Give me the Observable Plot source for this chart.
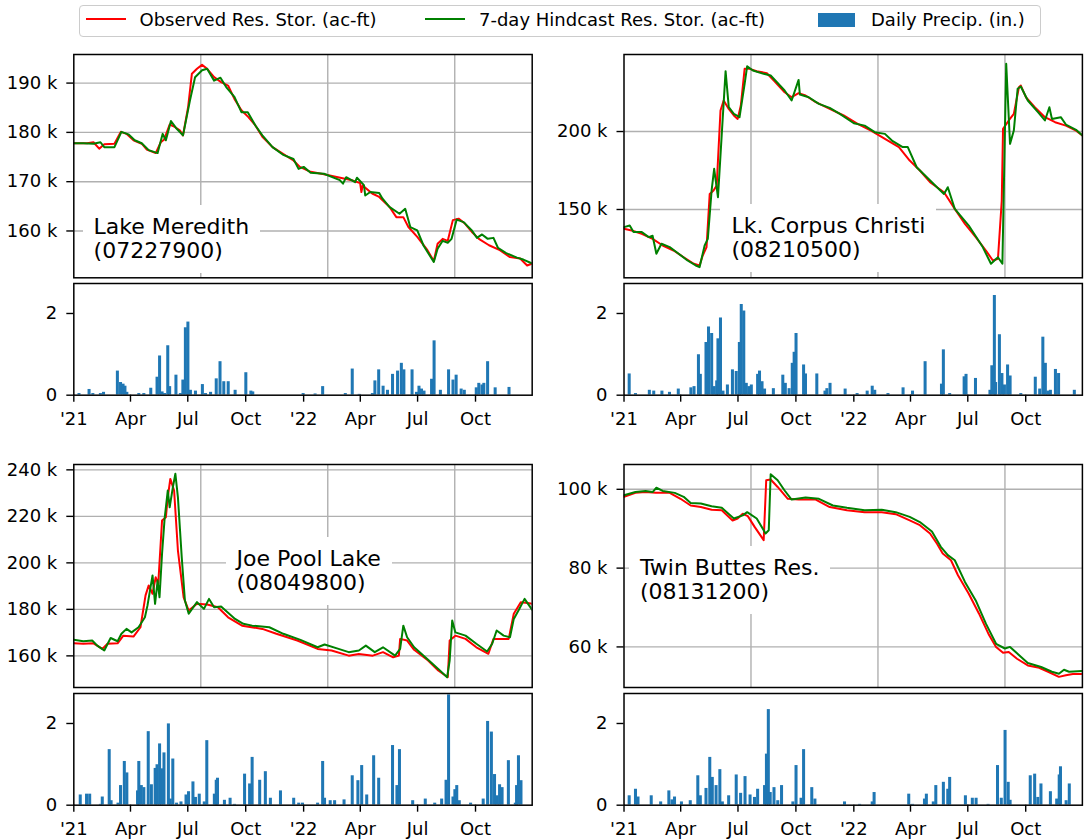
<!DOCTYPE html>
<html><head><meta charset="utf-8">
<script src="https://cdn.jsdelivr.net/npm/d3@7"></script>
<script src="https://cdn.jsdelivr.net/npm/@observablehq/plot@0.6"></script>
<style>
body{margin:0;background:#fff;font-family:"DejaVu Sans",sans-serif;}
#wrap{position:relative;width:1084px;height:839px;overflow:hidden;background:#fff;}
#wrap svg{position:absolute;}
.lbl{position:absolute;background:#fff;padding:10px 11px;font-size:22px;line-height:24px;white-space:pre;color:#000;}
.ltxt{position:absolute;font-size:18px;line-height:20px;white-space:pre;color:#000;top:10px;}
</style></head><body><div id="wrap"></div>
<script>
// ---------- storage series: [day index, thousand ac-ft] ----------
const meredithObs = [[0,177.8],[21,177.8],[31,178.0],[40,176.7],[48,177.6],[64,177.7],[74,180.1],[83,179.7],[94,178.4],[107,177.7],[115,176.5],[129,175.8],[137,178.0],[142,178.5],[151,181.6],[159,181.1],[167,180.4],[172,179.4],[180,185.1],[186,191.9],[194,192.9],[202,193.7],[210,192.9],[221,191.2],[232,190.2],[243,189.5],[253,186.8],[264,184.5],[275,183.1],[286,181.4],[297,179.1],[313,177.0],[329,175.7],[346,174.3],[356,173.0],[373,172.0],[394,171.5],[416,170.9],[438,170.3],[451,169.7],[453,167.9],[455,169.2],[470,167.6],[481,166.9],[497,164.9],[508,162.8],[519,162.8],[527,160.8],[541,158.8],[557,156.1],[567,153.9],[573,157.4],[581,158.4],[589,158.0],[597,162.2],[606,162.5],[616,161.5],[627,159.8],[638,158.4],[654,157.1],[671,156.1],[687,154.7],[703,154.4],[714,153.0],[722,153.4]];
const meredithHind = [[0,177.8],[15,177.8],[31,177.7],[42,178.0],[48,177.0],[64,177.0],[75,180.1],[86,179.6],[96,178.4],[107,177.8],[118,176.4],[132,175.8],[140,179.7],[145,178.4],[153,182.3],[161,180.9],[172,179.4],[183,186.5],[191,191.2],[202,192.6],[210,192.9],[221,190.5],[231,191.1],[240,189.2],[253,187.2],[264,184.1],[274,184.1],[286,181.4],[297,179.4],[313,177.0],[329,175.5],[346,174.6],[354,172.6],[362,173.0],[373,171.8],[394,171.6],[419,170.3],[424,169.6],[429,170.9],[443,169.9],[446,170.8],[457,169.3],[459,167.2],[467,167.9],[481,167.7],[486,166.6],[497,164.9],[513,163.5],[522,164.5],[530,160.8],[541,160.1],[551,157.0],[567,153.7],[573,156.4],[581,158.0],[589,157.6],[595,158.4],[603,162.3],[614,161.8],[627,160.1],[635,158.6],[643,159.3],[652,158.4],[661,158.6],[668,156.6],[681,155.5],[698,154.6],[708,154.2],[722,153.4]];

const corpusObs = [[0,137.6],[12,136.5],[28,134.4],[45,131.2],[61,126.9],[78,123.7],[94,119.4],[110,115.2],[119,114.1],[124,120.5],[130,125.9],[135,160.0],[141,162.2],[146,165.4],[152,213.5],[157,219.9],[165,214.5],[173,210.3],[179,208.1],[184,216.7],[190,240.2],[198,240.2],[209,238.7],[225,237.4],[236,232.7],[253,225.2],[264,222.0],[275,224.6],[286,223.1],[302,218.8],[324,214.5],[346,210.3],[368,204.9],[389,200.6],[411,195.3],[433,190.0],[450,181.4],[466,175.0],[482,167.5],[504,161.1],[521,150.4],[537,140.8],[554,132.3],[570,123.7],[581,117.3],[589,118.4],[595,155.8],[597,201.7],[606,207.1],[614,211.3],[622,228.4],[625,229.5],[633,222.0],[647,215.6],[663,209.2],[679,206.0],[696,203.8],[712,200.6],[722,197.4]];
const corpusHind = [[0,138.7],[9,139.7],[15,135.5],[28,135.5],[39,132.3],[45,133.2],[51,121.6],[59,128.0],[72,125.9],[83,122.6],[100,117.3],[113,114.1],[119,113.0],[127,126.9],[132,131.2],[138,162.2],[142,176.1],[148,157.9],[154,198.5],[160,238.7],[165,215.6],[173,211.3],[182,209.2],[190,230.6],[194,241.9],[203,239.1],[220,237.0],[231,235.9],[253,226.3],[264,219.9],[275,233.1],[277,223.7],[291,222.0],[307,217.7],[324,215.2],[340,211.3],[362,205.3],[379,203.8],[395,199.6],[411,198.5],[422,194.2],[439,190.0],[447,190.0],[461,177.1],[477,170.7],[493,164.3],[504,160.0],[510,164.3],[521,150.4],[543,139.7],[565,125.9],[578,115.2],[589,119.4],[596,115.2],[602,243.4],[606,209.2],[608,192.1],[614,200.6],[620,227.4],[625,228.9],[636,219.9],[652,212.4],[663,207.1],[670,215.6],[674,208.1],[688,209.2],[696,204.5],[712,201.1],[722,197.4]];

const joeObs = [[0,165.4],[15,165.2],[31,165.4],[45,163.0],[53,165.2],[69,165.4],[78,168.7],[94,168.3],[105,172.3],[113,186.0],[118,190.3],[124,186.7],[129,193.8],[133,191.0],[139,218.2],[145,219.6],[148,228.2],[152,236.1],[158,231.1],[164,205.3],[173,185.2],[181,179.5],[194,182.4],[210,182.1],[227,180.9],[243,176.6],[265,173.0],[297,171.6],[319,169.5],[352,166.6],[384,163.0],[406,162.3],[433,160.1],[449,160.8],[471,160.1],[487,161.6],[503,159.4],[512,160.1],[514,167.3],[525,166.6],[536,162.6],[558,158.0],[574,153.7],[589,150.8],[592,166.6],[601,168.7],[617,167.3],[634,163.7],[653,160.9],[661,167.3],[672,167.3],[685,167.3],[693,178.1],[704,183.1],[715,182.7],[722,182.4]];
const joeHind = [[0,166.9],[15,166.3],[29,166.6],[37,164.4],[48,162.3],[58,167.7],[69,166.3],[75,169.5],[83,171.6],[91,170.1],[102,172.3],[112,176.6],[116,181.6],[124,194.6],[128,182.4],[132,192.4],[135,185.2],[139,203.9],[143,218.9],[148,231.1],[151,223.9],[156,232.5],[160,238.3],[164,228.2],[170,202.4],[175,183.8],[181,178.1],[194,183.1],[205,180.2],[213,184.5],[221,180.9],[232,181.2],[254,175.9],[267,173.8],[281,173.0],[308,172.3],[330,169.5],[357,166.9],[384,163.7],[395,164.9],[417,163.0],[433,161.6],[449,162.3],[460,164.4],[474,161.6],[487,163.7],[506,160.1],[514,163.0],[519,173.0],[525,168.0],[536,163.7],[558,158.3],[574,154.4],[588,150.8],[592,158.0],[596,175.2],[601,170.1],[617,168.7],[634,165.2],[651,161.9],[659,165.2],[666,170.9],[677,168.7],[687,168.0],[693,175.9],[701,179.8],[710,184.5],[722,179.8]];

const twinObs = [[0,98.1],[18,99.1],[34,99.3],[50,99.1],[72,99.1],[89,97.6],[105,95.9],[121,95.5],[138,94.8],[154,94.7],[171,92.1],[179,92.6],[187,93.8],[195,93.2],[206,90.4],[220,87.1],[224,102.3],[231,102.5],[242,100.6],[258,97.6],[275,97.4],[302,97.4],[324,95.5],[351,94.7],[379,94.2],[406,94.2],[428,93.7],[450,92.1],[466,90.9],[482,88.8],[493,86.2],[502,83.7],[515,82.0],[526,78.2],[543,73.5],[559,68.5],[575,63.0],[586,60.0],[597,58.5],[606,58.7],[619,57.0],[636,55.3],[652,54.8],[668,53.7],[685,52.4],[696,52.8],[707,53.1],[722,53.1]];
const twinHind = [[0,98.5],[18,99.3],[34,99.6],[45,99.3],[51,100.4],[61,99.6],[80,99.1],[94,98.1],[105,96.5],[121,96.4],[138,95.7],[154,95.3],[173,92.6],[187,93.4],[194,94.2],[209,92.6],[223,88.8],[228,89.6],[231,103.8],[242,102.3],[253,99.7],[264,97.4],[286,97.9],[307,97.6],[329,95.9],[351,95.3],[379,94.7],[406,94.8],[428,94.2],[450,93.0],[466,91.7],[485,89.3],[499,85.4],[510,83.3],[521,82.0],[537,76.5],[554,71.8],[570,65.9],[586,60.8],[600,59.6],[608,60.0],[625,57.5],[636,55.9],[657,54.9],[674,53.7],[685,53.2],[693,54.2],[701,53.7],[722,53.9]];

// ---------- daily precipitation: [days since 2021-01-01, inches] ----------
const meredithPrecip = [[9,0.04],[25,0.14],[31,0.04],[43,0.04],[48,0.07],[70,0.59],[75,0.31],[79,0.27],[82,0.22],[85,0.07],[104,0.04],[112,0.04],[123,0.17],[133,0.44],[137,0.96],[141,0.08],[145,0.04],[150,1.21],[153,0.21],[163,0.49],[170,0.04],[174,0.37],[178,1.65],[182,1.79],[186,0.12],[194,0.10],[205,0.26],[210,0.04],[218,0.07],[227,0.40],[233,0.82],[239,0.33],[246,0.33],[257,0.12],[274,0.55],[282,0.10],[285,0.08],[365,0.04],[384,0.03],[396,0.21],[432,0.04],[443,0.64],[454,0.02],[475,0.04],[479,0.35],[485,0.62],[492,0.22],[499,0.12],[507,0.51],[515,0.59],[521,0.78],[525,0.62],[538,0.62],[545,0.07],[549,0.22],[553,0.15],[557,0.10],[569,0.39],[573,1.33],[583,0.12],[596,0.62],[603,0.37],[608,0.49],[616,0.15],[621,0.12],[640,0.18],[644,0.29],[649,0.25],[652,0.29],[658,0.82],[670,0.18],[692,0.19]];
const corpusPrecip = [[9,0.52],[19,0.04],[41,0.12],[48,0.10],[61,0.10],[73,0.07],[87,0.15],[107,0.18],[112,0.21],[119,0.99],[122,0.51],[131,1.29],[135,1.67],[140,1.51],[144,0.21],[148,0.35],[150,1.38],[154,1.89],[158,0.10],[165,0.25],[173,0.62],[179,0.58],[184,1.29],[187,2.22],[191,2.06],[195,0.29],[199,0.21],[203,0.25],[213,0.51],[216,0.59],[220,0.33],[224,0.15],[238,0.16],[253,0.49],[257,0.29],[263,0.16],[268,0.78],[271,1.05],[274,1.51],[286,0.74],[289,0.52],[307,0.52],[320,0.10],[323,0.16],[328,0.29],[352,0.15],[371,0.04],[387,0.10],[395,0.22],[399,0.12],[420,0.04],[444,0.18],[459,0.10],[479,0.82],[505,0.27],[508,1.11],[518,0.04],[541,0.45],[544,0.51],[559,0.41],[582,0.12],[585,0.72],[589,2.44],[591,0.31],[597,1.48],[601,0.53],[605,0.25],[610,0.74],[614,0.47],[631,0.04],[654,0.44],[661,0.15],[666,1.42],[670,0.78],[674,0.10],[678,0.12],[686,0.63],[691,0.53],[716,0.12]];
const joePrecip = [[11,0.25],[21,0.27],[26,0.27],[43,0.02],[46,0.20],[57,1.36],[60,0.11],[71,0.05],[75,0.48],[81,1.07],[85,0.79],[102,0.35],[104,1.07],[108,0.48],[112,0.43],[119,1.80],[124,0.50],[130,0.90],[133,0.99],[137,1.50],[140,0.89],[144,1.28],[151,1.99],[154,0.15],[158,1.13],[164,0.05],[171,0.08],[179,0.25],[183,0.33],[190,0.57],[194,0.19],[200,0.27],[208,0.08],[212,1.58],[224,0.27],[227,0.61],[229,0.66],[240,0.12],[249,0.17],[256,0.02],[272,0.76],[280,0.52],[284,1.17],[296,0.61],[305,0.82],[313,0.17],[329,0.35],[350,0.17],[358,0.05],[364,0.05],[388,0.05],[396,1.07],[399,0.17],[408,0.11],[415,0.11],[430,0.13],[443,0.72],[452,0.60],[458,0.97],[466,0.25],[477,1.21],[485,0.66],[507,1.46],[514,0.48],[518,1.36],[539,0.11],[559,0.15],[574,0.05],[585,0.15],[592,0.61],[596,2.70],[603,0.20],[606,0.38],[609,0.48],[613,0.11],[631,0.05],[651,0.15],[658,2.05],[664,1.79],[669,0.75],[673,0.23],[677,0.50],[681,0.43],[691,1.09],[702,0.05],[704,0.48],[707,1.21],[711,0.60]];
const twinPrecip = [[9,0.23],[19,0.39],[23,0.20],[44,0.23],[59,0.08],[72,0.35],[77,0.13],[81,0.20],[92,0.08],[106,0.11],[118,0.72],[122,0.23],[131,0.41],[137,1.17],[141,0.68],[147,0.48],[153,0.87],[157,0.08],[167,0.23],[179,0.74],[186,0.29],[193,0.70],[201,0.25],[208,0.19],[213,0.39],[224,0.48],[227,1.25],[230,2.34],[233,0.31],[239,0.43],[245,0.11],[251,0.48],[269,0.08],[274,0.97],[282,0.17],[286,1.36],[299,0.43],[304,0.15],[351,0.08],[375,0.02],[395,0.08],[398,0.31],[453,0.27],[459,0.02],[478,0.15],[481,0.27],[492,0.08],[496,0.48],[508,0.56],[515,0.39],[518,0.68],[543,0.23],[554,0.17],[560,0.17],[579,0.02],[594,0.97],[600,0.17],[606,1.83],[611,0.56],[614,0.12],[646,0.72],[653,0.76],[658,0.19],[663,0.52],[678,0.33],[688,0.15],[692,0.74],[694,0.94],[703,0.11],[708,0.52]];

// ---------- ticks and labels ----------
const lakeNames = ["Lake Meredith\n(07227900)", "Lk. Corpus Christi\n(08210500)", "Joe Pool Lake\n(08049800)", "Twin Buttes Res.\n(08131200)"];
const storageTicks = [[160000,170000,180000,190000],[150000,200000],[160000,180000,200000,220000,240000],[60000,80000,100000]];
const storageDomains = [[150500,195800],[106200,249400],[146400,242300],[49700,106300]];
const storageGridDays = [200,400,600];
const storageLastIndex = 722;
const precipTickDates = ["2021-01-01","2021-04-01","2021-07-01","2021-10-01","2022-01-01","2022-04-01","2022-07-01","2022-10-01"];
const precipTickLabels = ["'21","Apr","Jul","Oct","'22","Apr","Jul","Oct"];
const precipTicks = [0, 2];
const precipMax = 2.734;
const precipDays = 728;
const legendLabels = ["Observed Res. Stor. (ac-ft)", "7-day Hindcast Res. Stor. (ac-ft)", "Daily Precip. (in.)"];
const colors = {obs: "#ff0000", hind: "#008000", precip: "#1f77b4", grid: "#b0b0b0"};

const day0 = Date.UTC(2021,0,1);
const dayDate = d => new Date(day0 + d*864e5);
const tickDates = precipTickDates.map(s => new Date(s + "T00:00:00Z"));
const tickLabelMap = new Map(tickDates.map((t,i) => [+t, precipTickLabels[i]]));

const wrap = document.getElementById("wrap");
const svgStyle = {background: "transparent", overflow: "visible", fontFamily: "DejaVu Sans, sans-serif", fontSize: "18px", color: "black"};

const cols = [
  {left: 0, width: 540, mL: 73.3, mR: 8.3},
  {left: 540, width: 544, mL: 83.5, mR: 2.1}
];
const rows = [
  {sTop: 54, sH: 223.3, pTop: 283.3, pH: 111.7},
  {sTop: 464.3, sH: 223, pTop: 693.3, pH: 111.7}
];
const panels = [
  {obs: meredithObs, hind: meredithHind, precip: meredithPrecip, r: 0, c: 0, lbl: [82.6, 205]},
  {obs: corpusObs, hind: corpusHind, precip: corpusPrecip, r: 0, c: 1, lbl: [720.4, 203.5]},
  {obs: joeObs, hind: joeHind, precip: joePrecip, r: 1, c: 0, lbl: [225.5, 537]},
  {obs: twinObs, hind: twinHind, precip: twinPrecip, r: 1, c: 1, lbl: [629, 546]}
];

function place(svg, left, top) {
  svg.style.left = left + "px";
  svg.style.top = top + "px";
  wrap.appendChild(svg);
}

panels.forEach((p, i) => {
  const col = cols[p.c], row = rows[p.r];
  const toRows = arr => arr.map(d => ({day: d[0], stor: d[1]*1000}));
  const s = Plot.plot({
    width: col.width, height: row.sH + 20,
    marginLeft: col.mL, marginRight: col.mR, marginTop: 10, marginBottom: 10,
    style: svgStyle,
    x: {type: "linear", domain: [0, storageLastIndex], axis: null},
    y: {domain: storageDomains[i]},
    marks: [
      Plot.gridX({ticks: storageGridDays, stroke: colors.grid, strokeOpacity: 1, strokeWidth: 1.4}),
      Plot.gridY({ticks: storageTicks[i], stroke: colors.grid, strokeOpacity: 1, strokeWidth: 1.4}),
      Plot.line(toRows(p.obs), {x: "day", y: "stor", stroke: colors.obs, strokeWidth: 2, clip: true}),
      Plot.line(toRows(p.hind), {x: "day", y: "stor", stroke: colors.hind, strokeWidth: 2, clip: true}),
      Plot.axisY({ticks: storageTicks[i], tickFormat: v => `${v/1000} k`, tickSize: 7, tickPadding: 9.5, strokeWidth: 1.4, fontSize: 18, label: null}),
      Plot.frame({stroke: "black", strokeWidth: 1.5})
    ]
  });
  place(s, col.left, row.sTop - 10);

  const bars = p.precip.map(d => ({x1: dayDate(d[0]-2.4), x2: dayDate(d[0]+2.4), v: d[1]}));
  const pr = Plot.plot({
    width: col.width, height: row.pH + 45,
    marginLeft: col.mL, marginRight: col.mR, marginTop: 5, marginBottom: 40,
    style: svgStyle,
    x: {type: "utc", domain: [dayDate(0), dayDate(precipDays)]},
    y: {domain: [0, precipMax]},
    marks: [
      Plot.rect(bars, {x1: "x1", x2: "x2", y1: 0, y2: "v", fill: colors.precip, clip: true}),
      Plot.axisX({ticks: tickDates, tickFormat: d => tickLabelMap.get(+d), tickSize: 7, tickPadding: 10, strokeWidth: 1.4, fontSize: 18, label: null}),
      Plot.axisY({ticks: precipTicks, tickFormat: d => String(d), tickSize: 7, tickPadding: 9.5, strokeWidth: 1.4, fontSize: 18, label: null}),
      Plot.frame({stroke: "black", strokeWidth: 1.5})
    ]
  });
  place(pr, col.left, row.pTop - 5);

  const lbl = document.createElement("div");
  lbl.className = "lbl";
  lbl.textContent = lakeNames[i];
  lbl.style.left = p.lbl[0] + "px";
  lbl.style.top = p.lbl[1] + "px";
  wrap.appendChild(lbl);
});

// ---------- legend ----------
function addDiv(css, text, cls) {
  const d = document.createElement("div");
  if (cls) d.className = cls;
  d.style.cssText += css;
  if (text) d.textContent = text;
  wrap.appendChild(d);
}
addDiv("position:absolute;left:79px;top:4.7px;width:961.5px;height:32.6px;box-sizing:border-box;border:1.5px solid #cccccc;border-radius:4px;background:rgba(255,255,255,0.8);");
addDiv(`position:absolute;left:86px;top:18.3px;width:40px;height:2px;background:${colors.obs};`);
addDiv("left:139.5px;", legendLabels[0], "ltxt");
addDiv(`position:absolute;left:425px;top:18.3px;width:40px;height:2px;background:${colors.hind};`);
addDiv("left:479px;", legendLabels[1], "ltxt");
addDiv(`position:absolute;left:817.6px;top:13.3px;width:37.6px;height:13.4px;background:${colors.precip};`);
addDiv("left:871px;", legendLabels[2], "ltxt");
</script></body></html>
